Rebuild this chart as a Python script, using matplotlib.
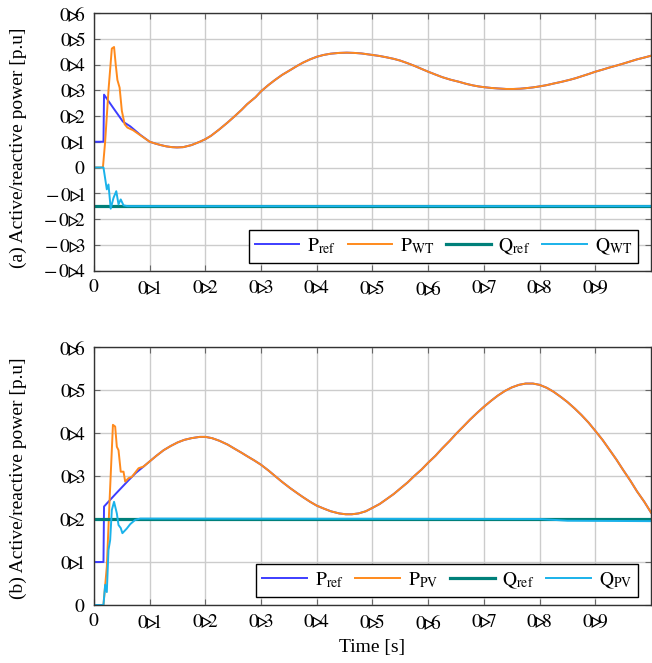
import matplotlib
matplotlib.use("Agg")
import matplotlib.pyplot as plt
from matplotlib.lines import Line2D

plt.rcParams['font.family'] = ['Liberation Serif', 'DejaVu Sans']
plt.rcParams['mathtext.fontset'] = 'stix'
FS = 14

# ---------------- panel (a) data ----------------
pref_a_t = [0, 0.017, 0.018, 0.035, 0.052, 0.065, 0.083,
            0.1, 0.11, 0.12, 0.13, 0.14, 0.149, 0.16, 0.175, 0.19, 0.2, 0.21, 0.225, 0.24, 0.253,
            0.265, 0.275, 0.29, 0.3, 0.313, 0.325, 0.338, 0.352, 0.365, 0.375, 0.388, 0.4, 0.412,
            0.425, 0.44, 0.454, 0.467, 0.48, 0.49, 0.5, 0.513, 0.525, 0.538, 0.55, 0.563, 0.575,
            0.588, 0.6, 0.613, 0.625, 0.64, 0.655, 0.668, 0.68, 0.69, 0.7, 0.713, 0.725, 0.74,
            0.753, 0.765, 0.775, 0.788, 0.8, 0.813, 0.825, 0.84, 0.855, 0.865, 0.875, 0.888, 0.9,
            0.913, 0.925, 0.94, 0.951, 0.963, 0.975, 0.988, 1.0]
pref_a_v = [0.1, 0.1, 0.283, 0.23, 0.178, 0.16, 0.127,
            0.1, 0.093, 0.087, 0.082, 0.079, 0.078, 0.079, 0.087, 0.1, 0.11, 0.123, 0.148, 0.175, 0.2,
            0.224, 0.246, 0.273, 0.296, 0.32, 0.34, 0.36, 0.378, 0.395, 0.407, 0.42, 0.43, 0.437,
            0.442, 0.445, 0.446, 0.445, 0.443, 0.44, 0.437, 0.433, 0.428, 0.422, 0.415, 0.405, 0.395,
            0.383, 0.372, 0.361, 0.351, 0.341, 0.333, 0.325, 0.319, 0.315, 0.312, 0.309, 0.307, 0.305,
            0.305, 0.306, 0.308, 0.311, 0.315, 0.32, 0.326, 0.333, 0.341, 0.347, 0.354, 0.363, 0.372,
            0.38, 0.388, 0.397, 0.404, 0.412, 0.42, 0.427, 0.434]
pwt_trans_t = [0, 0.016, 0.02, 0.026, 0.032, 0.036, 0.039, 0.042, 0.046, 0.05, 0.055, 0.06, 0.07, 0.08]
pwt_trans_v = [0, 0, 0.1, 0.3, 0.462, 0.468, 0.4, 0.34, 0.31, 0.22, 0.168, 0.155, 0.145, 0.13]
qref_a = -0.15
qwt_trans_t = [0, 0.017, 0.023, 0.026, 0.03, 0.035, 0.04, 0.044, 0.048, 0.053, 0.06, 1.0]
qwt_trans_v = [0, 0, -0.085, -0.066, -0.16, -0.118, -0.092, -0.143, -0.124, -0.147, -0.15, -0.15]

# ---------------- panel (b) data ----------------
pref_b_t = [0, 0.017, 0.018, 0.04, 0.062, 0.075,
            0.089, 0.1, 0.112, 0.125, 0.138, 0.15, 0.162, 0.175, 0.19, 0.2, 0.212, 0.225, 0.24,
            0.253, 0.265, 0.275, 0.288, 0.3, 0.313, 0.325, 0.338, 0.352, 0.365, 0.375, 0.388, 0.4,
            0.413, 0.425, 0.44, 0.452, 0.463, 0.475, 0.488, 0.5, 0.513, 0.525, 0.538, 0.55, 0.563,
            0.575, 0.588, 0.6, 0.613, 0.625, 0.638, 0.65, 0.663, 0.675, 0.688, 0.7, 0.713, 0.725,
            0.738, 0.75, 0.763, 0.775, 0.788, 0.8, 0.813, 0.825, 0.838, 0.85, 0.863, 0.875, 0.888,
            0.9, 0.913, 0.925, 0.938, 0.95, 0.963, 0.975, 0.988, 1.0]
pref_b_v = [0.1, 0.1, 0.229, 0.26, 0.29, 0.307,
            0.322, 0.334, 0.347, 0.36, 0.37, 0.378, 0.384, 0.388, 0.391, 0.391, 0.388, 0.382, 0.373,
            0.363, 0.354, 0.346, 0.336, 0.326, 0.313, 0.3, 0.286, 0.272, 0.26, 0.251, 0.24, 0.231,
            0.224, 0.218, 0.213, 0.211, 0.211, 0.213, 0.218, 0.226, 0.235, 0.246, 0.258, 0.271, 0.285,
            0.3, 0.315, 0.331, 0.347, 0.364, 0.381, 0.398, 0.415, 0.431, 0.447, 0.461, 0.475, 0.487,
            0.498, 0.506, 0.512, 0.515, 0.515, 0.512, 0.505, 0.496, 0.484, 0.472, 0.457, 0.442, 0.424,
            0.405, 0.384, 0.362, 0.338, 0.314, 0.289, 0.264, 0.24, 0.215]
ppv_trans_t = [0, 0.017, 0.023, 0.028, 0.034, 0.038, 0.041, 0.044, 0.048, 0.053, 0.056, 0.062, 0.068, 0.08]
ppv_trans_v = [0, 0, 0.089, 0.244, 0.419, 0.415, 0.368, 0.36, 0.31, 0.31, 0.287, 0.295, 0.298, 0.318]
qref_b = 0.2
qpv_t = [0, 0.017, 0.02, 0.023, 0.026, 0.029, 0.032, 0.036, 0.041, 0.044, 0.048, 0.051, 0.059,
         0.065, 0.074, 0.083, 0.8, 0.85, 1.0]
qpv_v = [0, 0, 0.047, 0.03, 0.128, 0.151, 0.221, 0.24, 0.213, 0.186, 0.179, 0.167, 0.178,
         0.188, 0.198, 0.201, 0.2, 0.196, 0.195]

TRI = '\\!\u25b9\\!\\!'
xticks = [0, 0.1, 0.2, 0.3, 0.4, 0.5, 0.6, 0.7, 0.8, 0.9]
xtick_labels = ['$0$'] + ['$0' + TRI + d + '$' for d in '123456789']
yticks_a = [-0.4, -0.3, -0.2, -0.1, 0, 0.1, 0.2, 0.3, 0.4, 0.5, 0.6]
ytick_labels_a = ['$-\\,0' + TRI + d + '$' for d in '4321'] + ['$0$'] + \
                 ['$0' + TRI + d + '$' for d in '123456']
yticks_b = [0, 0.1, 0.2, 0.3, 0.4, 0.5, 0.6]
ytick_labels_b = ['$0$'] + ['$0' + TRI + d + '$' for d in '123456']

C_PREF = '#3d3dff'
C_P = '#ff8a1c'
C_QREF = '#00807a'
C_Q = '#1ab2ea'
LW_THIN = 1.4
LW_QREF = 2.3

fig = plt.figure(figsize=(6.52, 6.63), dpi=100)
W, H = 652, 663
L, R = 94, 651
ax_a = fig.add_axes([L / W, 1 - 270.5 / H, (R - L) / W, (270.5 - 13) / H])
ax_b = fig.add_axes([L / W, 1 - 605 / H, (R - L) / W, (605 - 347) / H])


def style(ax, yt, ylab, ylim, label, ly):
    ax.set_xlim(0, 1.0)
    ax.set_ylim(*ylim)
    ax.set_xticks(xticks)
    ax.set_xticklabels(xtick_labels, fontsize=FS)
    ax.set_yticks(yt)
    ax.set_yticklabels(ylab, fontsize=FS)
    ax.grid(True, color='#cccccc', linewidth=1.0)
    ax.set_axisbelow(True)
    ax.tick_params(direction='in', length=4, width=0.8, color='#666666',
                   top=True, right=True, pad=6)
    for s in ax.spines.values():
        s.set_color('#333333')
        s.set_linewidth(1.0)
    ax.set_ylabel(label, fontsize=FS)
    ax.yaxis.set_label_coords(-0.12, ly)


# panel (a)
pwt_t = pwt_trans_t + [t for t in pref_a_t if t > 0.085]
pwt_v = pwt_trans_v + [v for t, v in zip(pref_a_t, pref_a_v) if t > 0.085]
ax_a.plot(pref_a_t, pref_a_v, color=C_PREF, lw=LW_THIN)
ax_a.plot(pwt_t, pwt_v, color=C_P, lw=LW_THIN)
ax_a.plot([0, 1.0], [qref_a, qref_a], color=C_QREF, lw=LW_QREF)
ax_a.plot(qwt_trans_t, qwt_trans_v, color=C_Q, lw=LW_THIN)
style(ax_a, yticks_a, ytick_labels_a, (-0.4, 0.6), '(a) Active/reactive power [p.u]', 0.475)

# panel (b)
ppv_t = ppv_trans_t + [t for t in pref_b_t if t > 0.085]
ppv_v = ppv_trans_v + [v for t, v in zip(pref_b_t, pref_b_v) if t > 0.085]
ax_b.plot(pref_b_t, pref_b_v, color=C_PREF, lw=LW_THIN)
ax_b.plot(ppv_t, ppv_v, color=C_P, lw=LW_THIN)
ax_b.plot([0, 1.0], [qref_b, qref_b], color=C_QREF, lw=LW_QREF)
ax_b.plot(qpv_t, qpv_v, color=C_Q, lw=LW_THIN)
style(ax_b, yticks_b, ytick_labels_b, (0, 0.6), '(b) Active/reactive power [p.u]', 0.49)
ax_b.set_xlabel('Time [s]', fontsize=FS, labelpad=4)


def legend(ax, names, anchor):
    handles = [Line2D([], [], color=C_PREF, lw=LW_THIN),
               Line2D([], [], color=C_P, lw=LW_THIN),
               Line2D([], [], color=C_QREF, lw=LW_QREF),
               Line2D([], [], color=C_Q, lw=LW_THIN)]
    lg = ax.legend(handles, names, loc='lower right', bbox_to_anchor=anchor, ncol=4,
                   fontsize=FS, frameon=True, fancybox=False, framealpha=1,
                   edgecolor='black', handlelength=2.3, handletextpad=0.4,
                   columnspacing=0.6, borderpad=0.3, borderaxespad=0)
    lg.get_frame().set_linewidth(1.0)


legend(ax_a, [r'$\mathrm{P_{ref}}$', r'$\mathrm{P_{WT}}$', r'$\mathrm{Q_{ref}}$', r'$\mathrm{Q_{WT}}$'],
       ((638 - L) / (R - L), (270.5 - 262.7) / 257.5))
legend(ax_b, [r'$\mathrm{P_{ref}}$', r'$\mathrm{P_{PV}}$', r'$\mathrm{Q_{ref}}$', r'$\mathrm{Q_{PV}}$'],
       ((638 - L) / (R - L), (605 - 596.7) / 258))

fig.savefig('out.png', dpi=100)
